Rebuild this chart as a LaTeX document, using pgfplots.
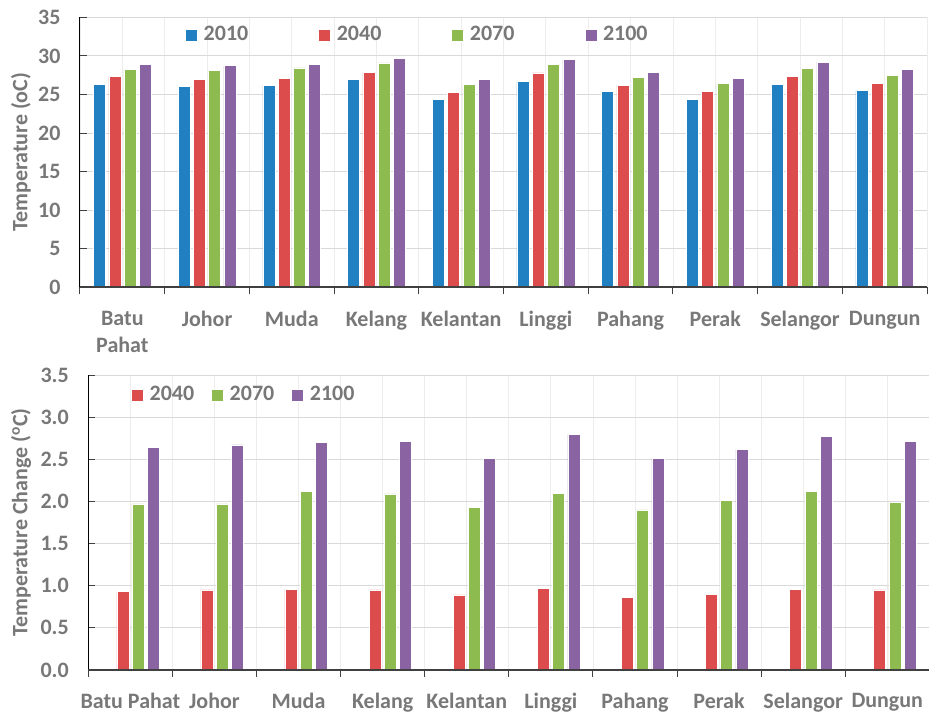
\documentclass[border=0pt]{standalone}
\usepackage{pgfplots}
\pgfplotsset{compat=1.18}
\usepackage{fontspec}
\setmainfont{Carlito}
\definecolor{cBlue}{RGB}{33,128,193}
\definecolor{cRed}{RGB}{221,76,76}
\definecolor{cGreen}{RGB}{141,187,79}
\definecolor{cPurple}{RGB}{138,99,163}
\definecolor{txtgrey}{RGB}{120,120,120}
\definecolor{axgrey}{RGB}{64,64,64}
\pgfplotsset{
  sq legend/.style={legend image code/.code={\fill[##1] (0pt,-6pt) rectangle (12pt,6pt); \path (16pt,0pt);}},
  mybar/.style={ybar, bar width=12pt, draw=white, line width=0.5pt, sq legend},
  common/.style={
    scale only axis,
    xmin=-0.5, xmax=9.5,
    axis x line*=bottom, axis y line*=left,
    x axis line style={draw=axgrey, line width=1.6pt},
    y axis line style={draw=black, line width=1pt},
    xtick={0,...,9},
    minor xtick={-0.5,0.5,...,9.5},
    major x tick style={draw=none},
    minor x tick style={draw=axgrey, line width=1pt, yshift=-7pt},
    minor tick length=7pt,
    major tick length=7pt,
    y tick style={draw=axgrey, line width=1pt},
    ymajorgrids, xmajorgrids, xminorgrids,
    y grid style={draw=gray!30, line width=1pt},
    x grid style={draw=gray!14, line width=0.8pt},
    ticklabel style={font=\bfseries, text=txtgrey},
    /pgf/number format/assume math mode=true,
    xticklabel style={align=center, yshift=-16pt},
    yticklabel style={xshift=-12pt},
    ylabel style={font=\bfseries, text=txtgrey},
    legend style={draw=none, fill=none, inner sep=0pt, font=\bfseries, text=txtgrey},
    legend cell align=left,
    clip=false,
  }
}
\begin{document}
\fontsize{22}{27}\selectfont
\begin{tikzpicture}
\begin{axis}[common,
  at={(80pt,425.7pt)}, anchor=south west,
  width=847pt, height=270pt,
  ymin=0, ymax=35, ytick={0,5,...,35},
  xticklabels={{Batu\\Pahat},Johor,Muda,Kelang,Kelantan,Linggi,Pahang,Perak,Selangor,Dungun},
  ylabel={Temperature (oC)},
  ylabel style={at={(axis description cs:-0.0697,0.5)}, anchor=center},
  legend columns=4,
  legend style={at={(0.124,0.934)}, anchor=west, /tikz/every even column/.append style={column sep=68pt}},
]
\addplot[mybar, bar shift=-22.9pt, fill=cBlue] coordinates {(0,26.3) (1,26.0) (2,26.2) (3,27.0) (4,24.4) (5,26.65) (6,25.4) (7,24.4) (8,26.3) (9,25.5)};
\addplot[mybar, bar shift=-7.6pt, fill=cRed] coordinates {(0,27.3) (1,27.0) (2,27.13) (3,27.9) (4,25.23) (5,27.78) (6,26.18) (7,25.4) (8,27.3) (9,26.48)};
\addplot[mybar, bar shift=7.6pt, fill=cGreen] coordinates {(0,28.26) (1,28.08) (2,28.43) (3,29.08) (4,26.35) (5,28.9) (6,27.26) (7,26.48) (8,28.39) (9,27.43)};
\addplot[mybar, bar shift=22.9pt, fill=cPurple] coordinates {(0,28.9) (1,28.73) (2,28.9) (3,29.68) (4,26.96) (5,29.5) (6,27.9) (7,27.13) (8,29.2) (9,28.26)};
\legend{2010,2040,2070,2100}
\draw[axgrey, line width=1.6pt] (rel axis cs:0,0) -- (rel axis cs:1,0);
\end{axis}
\begin{axis}[common,
  at={(88.3pt,43pt)}, anchor=south west,
  width=841pt, height=295pt,
  ymin=0, ymax=3.5, ytick={0,0.5,...,3.5},
  yticklabel style={/pgf/number format/.cd, fixed, fixed zerofill, precision=1},
  xticklabels={Batu Pahat,Johor,Muda,Kelang,Kelantan,Linggi,Pahang,Perak,Selangor,Dungun},
  ylabel={Temperature Change (\textsuperscript{o}C)},
  ylabel style={at={(axis description cs:-0.0799,0.5)}, anchor=center},
  legend columns=3,
  legend style={at={(0.0507,0.932)}, anchor=west, /tikz/every even column/.append style={column sep=15pt}},
]
\addplot[mybar, bar shift=-7.6pt, fill=cRed] coordinates {(0,0.934) (1,0.95) (2,0.96) (3,0.95) (4,0.89) (5,0.97) (6,0.86) (7,0.90) (8,0.96) (9,0.95)};
\addplot[mybar, bar shift=7.6pt, fill=cGreen] coordinates {(0,1.97) (1,1.97) (2,2.12) (3,2.09) (4,1.93) (5,2.10) (6,1.90) (7,2.01) (8,2.12) (9,1.985)};
\addplot[mybar, bar shift=22.9pt, fill=cPurple] coordinates {(0,2.64) (1,2.67) (2,2.70) (3,2.71) (4,2.51) (5,2.80) (6,2.51) (7,2.62) (8,2.77) (9,2.71)};
\legend{2040,2070,2100}
\draw[axgrey, line width=1.6pt] (rel axis cs:0,0) -- (rel axis cs:1,0);
\end{axis}
\pgfresetboundingbox
\useasboundingbox (0pt,0pt) rectangle (929pt,713pt);
\end{tikzpicture}
\end{document}
